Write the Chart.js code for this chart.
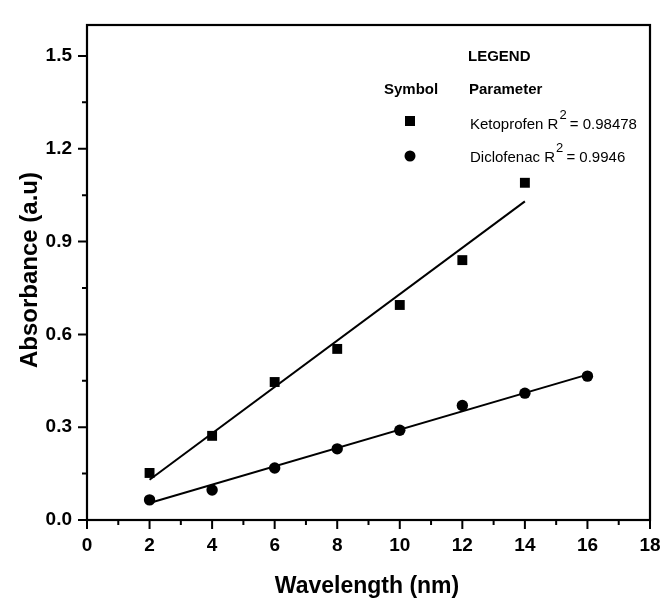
<!DOCTYPE html>
<html><head><meta charset="utf-8">
<script src="https://cdn.jsdelivr.net/npm/chart.js@4/dist/chart.umd.min.js"></script>
<style>html,body{margin:0;padding:0;background:#fff}#wrap{width:662px;height:598px}</style>
</head><body><div id="wrap"><canvas id="c" width="662" height="598"></canvas></div>
<script>
const ketoX = [2, 4, 6, 8, 10, 12, 14];
const ketoprofen = [0.152, 0.272, 0.446, 0.553, 0.695, 0.84, 1.09];
const dicloX = [2, 4, 6, 8, 10, 12, 14, 16];
const diclofenac = [0.065, 0.097, 0.168, 0.23, 0.29, 0.37, 0.41, 0.465];
const ketoFitX = [2, 14];
const ketoFitY = [0.130, 1.03];
const dicloFitX = [2, 16];
const dicloFitY = [0.055, 0.470];
const xTicks = [0, 2, 4, 6, 8, 10, 12, 14, 16, 18];
const yTicks = [0, 0.3, 0.6, 0.9, 1.2, 1.5];
const xTitle = 'Wavelength (nm)';
const yTitle = 'Absorbance (a.u)';
const legendTitle = 'LEGEND';
const legendHead = ['Symbol', 'Parameter'];
const legendRows = [
  {name: 'Ketoprofen R', sup: '2', rest: ' = 0.98478', style: 'rect'},
  {name: 'Diclofenac R', sup: '2', rest: ' = 0.9946', style: 'circle'}
];

const FONT = '"Liberation Sans", Arial, sans-serif';
const pts = (xs, ys) => xs.map((x, i) => ({x: x, y: ys[i]}));

const decor = {
  id: 'decor',
  afterDraw(chart) {
    const ctx = chart.ctx, a = chart.chartArea;
    const xs = chart.scales.x, ys = chart.scales.y;
    ctx.save();
    ctx.strokeStyle = '#000';
    ctx.lineWidth = 2.2;
    ctx.strokeRect(a.left, a.top, a.right - a.left, a.bottom - a.top);
    ctx.lineWidth = 2;
    ctx.beginPath();
    for (let v = 0; v <= 18; v += 1) {
      const p = xs.getPixelForValue(v);
      const L = v % 2 === 0 ? 9 : 5;
      ctx.moveTo(p, a.bottom); ctx.lineTo(p, a.bottom + L);
    }
    for (let k = 0; k <= 10; k++) {
      const v = k * 0.15;
      const p = ys.getPixelForValue(v);
      const L = k % 2 === 0 ? 9 : 5;
      ctx.moveTo(a.left, p); ctx.lineTo(a.left - L, p);
    }
    ctx.stroke();

    // axis titles
    ctx.fillStyle = '#000';
    ctx.textAlign = 'center';
    ctx.textBaseline = 'alphabetic';
    ctx.font = 'bold 23px ' + FONT;
    ctx.fillText(xTitle, 367, 593);
    ctx.save();
    ctx.translate(37, 270);
    ctx.rotate(-Math.PI / 2);
    ctx.font = 'bold 24px ' + FONT;
    ctx.fillText(yTitle, 0, 0);
    ctx.restore();

    // legend
    ctx.textBaseline = 'middle';
    ctx.font = 'bold 15px ' + FONT;
    ctx.textAlign = 'left';
    ctx.fillText(legendTitle, 468, 57);
    ctx.fillText(legendHead[0], 384, 90);
    ctx.fillText(legendHead[1], 469, 90);
    const rowY = [125, 158];
    const symY = [121, 156];
    legendRows.forEach((r, i) => {
      ctx.fillStyle = '#000';
      if (r.style === 'rect') {
        ctx.fillRect(405, symY[i] - 5, 10, 10);
      } else {
        ctx.beginPath(); ctx.arc(410, symY[i], 5.5, 0, Math.PI * 2); ctx.fill();
      }
      ctx.font = '15px ' + FONT;
      let x = 470;
      ctx.fillText(r.name, x, rowY[i]);
      x += ctx.measureText(r.name).width;
      ctx.font = '13px ' + FONT;
      ctx.fillText(r.sup, x + 1, rowY[i] - 10);
      x += ctx.measureText(r.sup).width;
      ctx.font = '15px ' + FONT;
      ctx.fillText(r.rest, x, rowY[i]);
    });
    ctx.restore();
  }
};

new Chart(document.getElementById('c'), {
  type: 'scatter',
  data: {
    datasets: [
      {label: 'Ketoprofen', data: pts(ketoX, ketoprofen), pointStyle: 'rect', pointRadius: 7,
       backgroundColor: '#000', borderColor: '#000', borderWidth: 0, showLine: false},
      {label: 'Diclofenac', data: pts(dicloX, diclofenac), pointStyle: 'circle', pointRadius: 5.7,
       backgroundColor: '#000', borderColor: '#000', borderWidth: 0, showLine: false},
      {label: 'Ketoprofen fit', data: pts(ketoFitX, ketoFitY), showLine: true, pointRadius: 0,
       borderColor: '#000', borderWidth: 2, fill: false},
      {label: 'Diclofenac fit', data: pts(dicloFitX, dicloFitY), showLine: true, pointRadius: 0,
       borderColor: '#000', borderWidth: 2, fill: false}
    ]
  },
  options: {
    responsive: false,
    animation: false,
    devicePixelRatio: 1,
    layout: {padding: {left: 0, right: 12, top: 25, bottom: 0}},
    plugins: {legend: {display: false}, tooltip: {enabled: false}},
    scales: {
      x: {
        type: 'linear', min: 0, max: 18,
        afterBuildTicks: s => { s.ticks = xTicks.map(v => ({value: v})); },
        afterFit: s => { s.height = 78; s.paddingLeft = 0; s.paddingRight = 0; },
        grid: {display: false, drawTicks: false},
        border: {display: false},
        ticks: {color: '#000', padding: 14, font: {family: FONT, size: 19, weight: 'bold'},
                callback: v => String(v), maxRotation: 0, autoSkip: false}
      },
      y: {
        type: 'linear', min: 0, max: 1.6,
        afterBuildTicks: s => { s.ticks = yTicks.map(v => ({value: v})); },
        afterFit: s => { s.width = 87; s.paddingTop = 0; s.paddingBottom = 0; },
        grid: {display: false, drawTicks: false},
        border: {display: false},
        ticks: {color: '#000', padding: 15, font: {family: FONT, size: 19, weight: 'bold'},
                callback: v => Number(v).toFixed(1), autoSkip: false}
      }
    }
  },
  plugins: [decor]
});
</script></body></html>
